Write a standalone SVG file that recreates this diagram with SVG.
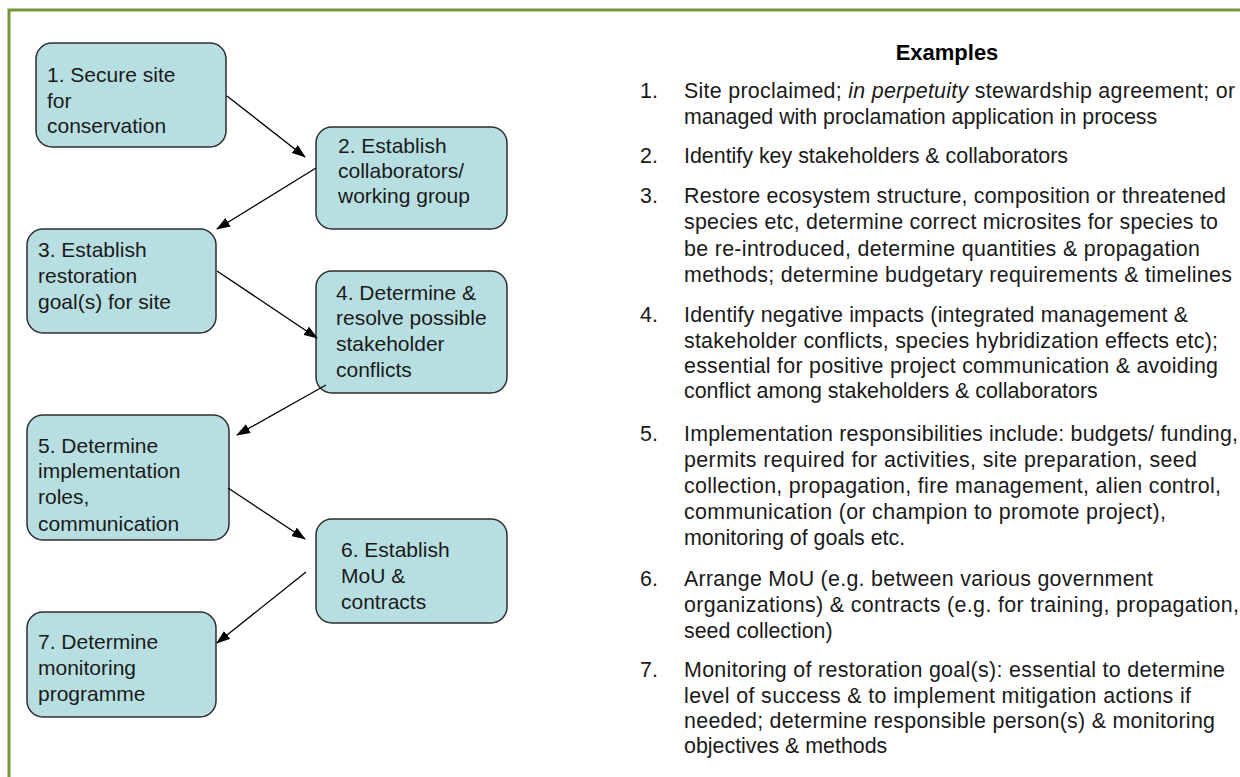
<svg xmlns="http://www.w3.org/2000/svg" width="1240" height="777" viewBox="0 0 1240 777">
<style>
.box{fill:#b7dfe1;stroke:#2e2e2e;stroke-width:1.5}
.bt{font-family:"Liberation Sans",Arial,sans-serif;font-size:21px;fill:#1a1a1a}
.rt{font-family:"Liberation Sans",Arial,sans-serif;font-size:21.4px;fill:#1a1a1a}
.hd{font-family:"Liberation Sans",Arial,sans-serif;font-size:22px;font-weight:bold;fill:#000}
.con{stroke:#000;stroke-width:1.3;fill:none;marker-end:url(#ah)}
</style>
<defs>
<marker id="ah" markerWidth="14" markerHeight="10" refX="13" refY="5" orient="auto" markerUnits="userSpaceOnUse">
<path d="M0,0 L14,5 L0,10 Z" fill="#000"/>
</marker>
</defs>
<rect width="1240" height="777" fill="#fff"/>
<path d="M9,777 V10 H1240" fill="none" stroke="#77953b" stroke-width="3"/>

<g id="n1"><rect class="box" x="36" y="43" width="190" height="104" rx="16"/>
<text class="bt"><tspan x="47" y="82">1. Secure site</tspan><tspan x="47" y="108">for</tspan><tspan x="47" y="133">conservation</tspan></text></g>
<g id="n2"><rect class="box" x="316" y="127" width="191" height="102" rx="16"/>
<text class="bt"><tspan x="338" y="153">2. Establish</tspan><tspan x="338" y="178">collaborators/</tspan><tspan x="338" y="203">working group</tspan></text></g>
<g id="n3"><rect class="box" x="27" y="229" width="189" height="104" rx="16"/>
<text class="bt"><tspan x="38" y="257">3. Establish</tspan><tspan x="38" y="283">restoration</tspan><tspan x="38" y="309">goal(s) for site</tspan></text></g>
<g id="n4"><rect class="box" x="316" y="271" width="191" height="122" rx="16"/>
<text class="bt"><tspan x="336" y="300">4. Determine &amp;</tspan><tspan x="336" y="325">resolve possible</tspan><tspan x="336" y="351">stakeholder</tspan><tspan x="336" y="377">conflicts</tspan></text></g>
<g id="n5"><rect class="box" x="27" y="415" width="202" height="125" rx="16"/>
<text class="bt"><tspan x="38" y="453">5. Determine</tspan><tspan x="38" y="478">implementation</tspan><tspan x="38" y="504">roles,</tspan><tspan x="38" y="531">communication</tspan></text></g>
<g id="n6"><rect class="box" x="316" y="519" width="191" height="104" rx="16"/>
<text class="bt"><tspan x="341" y="557">6. Establish</tspan><tspan x="341" y="583">MoU &amp;</tspan><tspan x="341" y="609">contracts</tspan></text></g>
<g id="n7"><rect class="box" x="27" y="612" width="189" height="105" rx="16"/>
<text class="bt"><tspan x="38" y="649">7. Determine</tspan><tspan x="38" y="675">monitoring</tspan><tspan x="38" y="701">programme</tspan></text></g>

<g id="connectors">
<line class="con" x1="227" y1="96" x2="305" y2="157"/>
<line class="con" x1="316" y1="168" x2="217" y2="229"/>
<line class="con" x1="217" y1="271" x2="317" y2="338"/>
<line class="con" x1="326" y1="385" x2="237" y2="435"/>
<line class="con" x1="228" y1="488" x2="305" y2="539"/>
<line class="con" x1="306" y1="572" x2="217" y2="643"/>
</g>

<g id="examples">
<text class="hd" x="947" y="60" text-anchor="middle">Examples</text>
<text class="rt" x="640" y="98">1.</text>
<text class="rt" x="684" y="98" textLength="551" lengthAdjust="spacing">Site proclaimed; <tspan font-style="italic">in perpetuity</tspan> stewardship agreement; or</text>
<text class="rt" x="684" y="124">managed with proclamation application in process</text>
<text class="rt" x="640" y="163">2.</text>
<text class="rt" x="684" y="163">Identify  key stakeholders &amp; collaborators</text>
<text class="rt" x="640" y="203">3.</text>
<text class="rt" x="684" y="203" textLength="542" lengthAdjust="spacing">Restore ecosystem structure,  composition or threatened</text>
<text class="rt" x="684" y="229" textLength="534" lengthAdjust="spacing">species etc, determine correct microsites for species to</text>
<text class="rt" x="684" y="256" textLength="516" lengthAdjust="spacing">be re-introduced, determine quantities &amp; propagation</text>
<text class="rt" x="684" y="282" textLength="548" lengthAdjust="spacing">methods; determine budgetary requirements &amp; timelines</text>
<text class="rt" x="640" y="322">4.</text>
<text class="rt" x="684" y="322" textLength="504" lengthAdjust="spacing">Identify  negative impacts (integrated management &amp;</text>
<text class="rt" x="684" y="348" textLength="534" lengthAdjust="spacing">stakeholder conflicts, species hybridization effects etc);</text>
<text class="rt" x="684" y="373" textLength="534" lengthAdjust="spacing">essential for positive project communication &amp; avoiding</text>
<text class="rt" x="684" y="398">conflict among stakeholders &amp; collaborators</text>
<text class="rt" x="640" y="441">5.</text>
<text class="rt" x="684" y="441" textLength="554" lengthAdjust="spacing">Implementation  responsibilities include:  budgets/ funding,</text>
<text class="rt" x="684" y="467" textLength="513" lengthAdjust="spacing">permits required for activities, site preparation, seed</text>
<text class="rt" x="684" y="493" textLength="537" lengthAdjust="spacing">collection, propagation, fire management, alien control,</text>
<text class="rt" x="684" y="519" textLength="482" lengthAdjust="spacing">communication (or champion  to promote project),</text>
<text class="rt" x="684" y="545">monitoring of goals etc.</text>
<text class="rt" x="640" y="586">6.</text>
<text class="rt" x="684" y="586" textLength="469" lengthAdjust="spacing">Arrange MoU (e.g. between various government</text>
<text class="rt" x="684" y="612" textLength="555" lengthAdjust="spacing">organizations) &amp; contracts (e.g. for training, propagation,</text>
<text class="rt" x="684" y="638">seed collection)</text>
<text class="rt" x="640" y="677">7.</text>
<text class="rt" x="684" y="677" textLength="541" lengthAdjust="spacing">Monitoring of restoration goal(s): essential to determine</text>
<text class="rt" x="684" y="703" textLength="507" lengthAdjust="spacing">level of success &amp; to implement mitigation actions if</text>
<text class="rt" x="684" y="728" textLength="531" lengthAdjust="spacing">needed; determine responsible person(s) &amp; monitoring</text>
<text class="rt" x="684" y="753">objectives &amp; methods</text>
</g>
</svg>
